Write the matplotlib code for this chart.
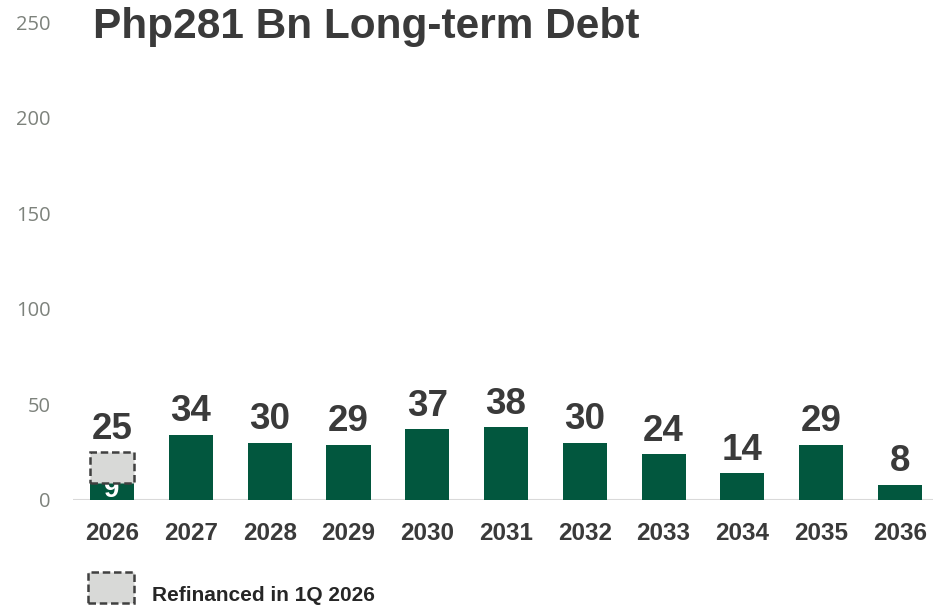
import matplotlib

matplotlib.use("Agg")

import matplotlib.pyplot as plt
from matplotlib.patches import Rectangle

years = ["2026", "2027", "2028", "2029", "2030", "2031", "2032", "2033", "2034", "2035", "2036"]
debt = [9, 34, 30, 29, 37, 38, 30, 24, 14, 29, 8]
refinanced = [16, 0, 0, 0, 0, 0, 0, 0, 0, 0, 0]
totals = [25, 34, 30, 29, 37, 38, 30, 24, 14, 29, 8]
yticks = [0, 50, 100, 150, 200, 250]

GREEN = "#02573e"
GREY_FILL = "#d8d9d7"
DARK = "#3a3a3a"
BOLD = ["Liberation Sans", "DejaVu Sans"]

fig = plt.figure(figsize=(9.33, 6.05), dpi=100)
ax = fig.add_axes([0.078, 0.1736, 0.922, 0.79])

x = range(len(years))
ax.bar(x, debt, width=0.56, color=GREEN, zorder=2)
ax.bar(x[0], refinanced[0], bottom=debt[0], width=0.56, facecolor=GREY_FILL,
       edgecolor="#404040", linestyle=(0, (3, 1.5)), linewidth=1.8, zorder=4)

# value inside the green part of 2026, partly hidden by the refinanced box
ax.text(0, debt[0] * 0.6, str(debt[0]), ha="center", va="center", color="white",
        fontsize=20, fontweight="bold", family=BOLD, zorder=3)

for i, t in enumerate(totals):
    ax.annotate(str(t), (i, t), xytext=(0, 4), textcoords="offset points",
                ha="center", va="bottom", fontsize=26.5, fontweight="bold",
                color=DARK, family=BOLD, zorder=5)

ax.axhline(0, color="#d9d9d9", linewidth=1.5, zorder=1)
ax.set_xlim(-0.5, 10.42)
ax.set_ylim(0, 250)
ax.set_yticks(yticks)
ax.set_yticklabels([str(v) for v in yticks], fontsize=14.5, color="#7d827c",
                   family=["Open Sans", "DejaVu Sans"])
ax.set_xticks(list(x))
ax.set_xticklabels(years, fontsize=17.5, fontweight="bold", color=DARK, family=BOLD)
ax.tick_params(axis="y", length=0, pad=16)
ax.tick_params(axis="x", length=0, pad=16)
for s in ax.spines.values():
    s.set_visible(False)

fig.text(0.0997, 0.938, "Php281 Bn Long-term Debt", ha="left", va="baseline",
         fontsize=30.5, fontweight="bold", color=DARK, family=BOLD)

# legend for the refinanced box
fig.add_artist(Rectangle((0.0943, 0.0033), 0.0493, 0.0512, transform=fig.transFigure,
                         facecolor=GREY_FILL, edgecolor="#404040",
                         linestyle=(0, (3, 1.5)), linewidth=1.8))
fig.text(0.163, 0.0165, "Refinanced in 1Q 2026", ha="left", va="center",
         fontsize=15, fontweight="bold", color="#262626", family=BOLD)

fig.savefig("out.png", dpi=100)
